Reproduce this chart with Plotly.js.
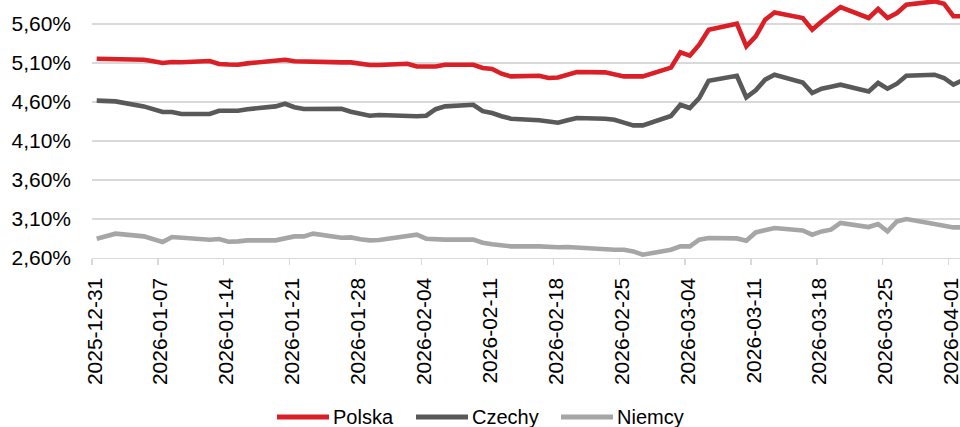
<!DOCTYPE html>
<html>
<head>
<meta charset="utf-8">
<script src="https://cdn.plot.ly/plotly-3.0.1.min.js"></script>
<style>
  html, body { margin: 0; padding: 0; background: #ffffff; }
  #chart { width: 960px; height: 427px; }
</style>
</head>
<body>
<div id="chart"></div>
<script>
// ---- data (yields, %) ----
var dates = [
  '2025-12-31','2026-01-01','2026-01-02',
  '2026-01-05','2026-01-06','2026-01-07','2026-01-08','2026-01-09',
  '2026-01-12','2026-01-13','2026-01-14','2026-01-15','2026-01-16',
  '2026-01-19','2026-01-20','2026-01-21','2026-01-22','2026-01-23',
  '2026-01-26','2026-01-27','2026-01-28','2026-01-29','2026-01-30',
  '2026-02-02','2026-02-03','2026-02-04','2026-02-05','2026-02-06',
  '2026-02-09','2026-02-10','2026-02-11','2026-02-12','2026-02-13',
  '2026-02-16','2026-02-17','2026-02-18','2026-02-19','2026-02-20',
  '2026-02-23','2026-02-24','2026-02-25','2026-02-26','2026-02-27',
  '2026-03-02','2026-03-03','2026-03-04','2026-03-05','2026-03-06',
  '2026-03-09','2026-03-10','2026-03-11','2026-03-12','2026-03-13',
  '2026-03-16','2026-03-17','2026-03-18','2026-03-19','2026-03-20',
  '2026-03-23','2026-03-24','2026-03-25','2026-03-26','2026-03-27',
  '2026-03-30','2026-03-31','2026-04-01','2026-04-02'
];

var polska = [
  5.155, 5.155, 5.155,
  5.142, 5.123, 5.100, 5.113, 5.110,
  5.126, 5.087, 5.080, 5.078, 5.095,
  5.132, 5.142, 5.123, 5.117, 5.115,
  5.108, 5.108, 5.090, 5.074, 5.074,
  5.091, 5.056, 5.056, 5.056, 5.078,
  5.078, 5.036, 5.023, 4.963, 4.928,
  4.937, 4.908, 4.915, 4.950, 4.985,
  4.980, 4.956, 4.928, 4.928, 4.928,
  5.040, 5.236, 5.194, 5.335, 5.527,
  5.604, 5.313, 5.441, 5.655, 5.749,
  5.677, 5.527, 5.633, 5.728, 5.818,
  5.677, 5.792, 5.677, 5.741, 5.847,
  5.890, 5.860, 5.700, 5.700
];

var czechy = [
  4.617, 4.614, 4.608,
  4.544, 4.508, 4.472, 4.472, 4.446,
  4.446, 4.488, 4.488, 4.488, 4.508,
  4.544, 4.578, 4.533, 4.510, 4.514,
  4.514, 4.476, 4.450, 4.424, 4.433,
  4.415, 4.418, 4.424, 4.508, 4.544,
  4.565, 4.482, 4.459, 4.418, 4.386,
  4.367, 4.354, 4.335, 4.367, 4.395,
  4.386, 4.373, 4.335, 4.300, 4.300,
  4.420, 4.565, 4.523, 4.651, 4.873,
  4.937, 4.659, 4.749, 4.886, 4.950,
  4.851, 4.715, 4.771, 4.796, 4.822,
  4.736, 4.844, 4.771, 4.835, 4.937,
  4.950, 4.908, 4.822, 4.880
];

var niemcy = [
  2.847, 2.879, 2.912,
  2.877, 2.841, 2.805, 2.869, 2.860,
  2.835, 2.844, 2.809, 2.813, 2.826,
  2.826, 2.854, 2.877, 2.877, 2.912,
  2.860, 2.864, 2.841, 2.826, 2.831,
  2.873, 2.899, 2.847, 2.835, 2.835,
  2.835, 2.796, 2.777, 2.758, 2.749,
  2.749, 2.738, 2.738, 2.741, 2.732,
  2.706, 2.706, 2.706, 2.685, 2.642,
  2.706, 2.749, 2.749, 2.835, 2.856,
  2.851, 2.822, 2.928, 2.956, 2.985,
  2.954, 2.899, 2.941, 2.963, 3.049,
  2.997, 3.036, 2.941, 3.069, 3.100,
  3.036, 3.008, 2.992, 2.992
];

var seriesNames = ['Polska', 'Czechy', 'Niemcy'];
var seriesColors = ['#DA1F26', '#595959', '#A6A6A6'];
var seriesValues = [polska, czechy, niemcy];

// ---- layout geometry (pixels) ----
var W = 960, H = 427;
var mL = 92, mR = 0, mT = 0, mB = 169;
var plotW = W - mL - mR, plotH = H - mT - mB;
function px2paperX(px) { return (px - mL) / plotW; }
function px2paperY(py) { return (H - mB - py) / plotH; }

var FONT = 'Liberation Sans, Arial, Helvetica, sans-serif';

var traces = seriesNames.map(function (name, i) {
  return {
    type: 'scatter',
    mode: 'lines',
    name: name,
    x: dates,
    y: seriesValues[i],
    line: { color: seriesColors[i], width: 4.6, shape: 'linear' },
    showlegend: false,
    hoverinfo: 'skip'
  };
});

// custom legend (longer line keys like the original)
var legendLineStart = [277, 416, 561];
var legendLineLen = 52;
var legendY = 417;
var shapes = [];
var annotations = [];
seriesNames.forEach(function (name, i) {
  shapes.push({
    type: 'line', xref: 'paper', yref: 'paper',
    x0: px2paperX(legendLineStart[i]), x1: px2paperX(legendLineStart[i] + legendLineLen),
    y0: px2paperY(legendY), y1: px2paperY(legendY),
    line: { color: seriesColors[i], width: 5 }
  });
  annotations.push({
    xref: 'paper', yref: 'paper',
    x: px2paperX(legendLineStart[i] + legendLineLen + 2), y: px2paperY(legendY),
    xanchor: 'left', yanchor: 'middle',
    text: name, showarrow: false,
    font: { family: FONT, size: 20, color: '#000000' }
  });
});

var layout = {
  width: W, height: H,
  margin: { l: mL, r: mR, t: mT, b: mB, pad: 0 },
  paper_bgcolor: '#ffffff',
  plot_bgcolor: '#ffffff',
  separators: ', ',
  font: { family: FONT, size: 21, color: '#000000' },
  showlegend: false,
  xaxis: {
    type: 'date',
    range: ['2025-12-30 12:00', '2026-04-01 16:48'],
    tick0: '2025-12-31',
    dtick: 7 * 86400000,
    tickformat: '%Y-%m-%d',
    tickangle: -90,
    ticks: '',
    ticklabelstandoff: 10,
    ticklabelshift: -2,
    ticklabeloverflow: 'allow',
    tickfont: { family: FONT, size: 21, color: '#000000' },
    showgrid: false,
    zeroline: false,
    showline: true,
    linecolor: '#D9D9D9',
    linewidth: 1.3,
    minor: {
      ticks: 'outside',
      tick0: '2025-12-30 12:00',
      dtick: 7 * 86400000,
      ticklen: 6,
      tickwidth: 1.3,
      tickcolor: '#D9D9D9',
      showgrid: false
    },
    fixedrange: true
  },
  yaxis: {
    range: [2.6, 2.6 + plotH / 78],
    tick0: 2.6,
    dtick: 0.5,
    tickformat: '.2f',
    ticksuffix: '%',
    ticks: '',
    ticklabelstandoff: 20,
    tickfont: { family: FONT, size: 21, color: '#000000' },
    showgrid: true,
    gridcolor: '#D9D9D9',
    gridwidth: 1.3,
    zeroline: false,
    showline: false,
    fixedrange: true
  },
  shapes: shapes,
  annotations: annotations
};

Plotly.newPlot('chart', traces, layout, { displayModeBar: false, staticPlot: true });
</script>
</body>
</html>
